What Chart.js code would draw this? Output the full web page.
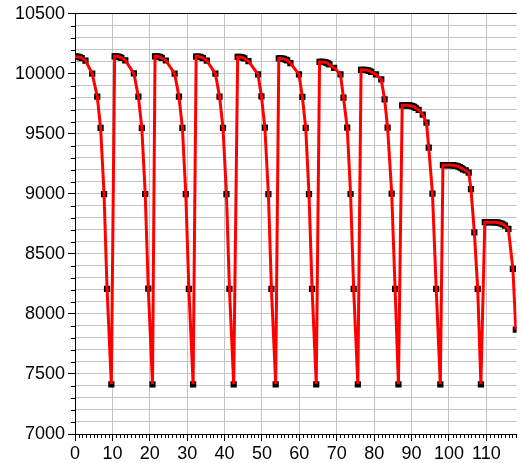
<!DOCTYPE html>
<html>
<head>
<meta charset="utf-8">
<script src="https://cdn.jsdelivr.net/npm/chart.js@4.4.1/dist/chart.umd.min.js"></script>
<style>
  html, body { margin: 0; padding: 0; background: #fff; }
  canvas { display: block; }
</style>
</head>
<body>
<canvas id="chart" width="521" height="463"></canvas>
<script>
// one row per cycle: plateau, shoulder, fall, bottom
const timeValues = [
  0, 0.45, 0.9, 1.35, 1.8, 2.8, 4.6, 5.95, 6.85, 7.77, 8.57, 9.72,
  10.6, 11.05, 11.5, 11.95, 12.4, 13.45, 15.75, 16.95, 17.87, 18.78, 19.6, 20.73,
  21.4, 21.85, 22.3, 22.75, 23.2, 24.3, 26.65, 27.8, 28.72, 29.63, 30.45, 31.59,
  32.4, 32.85, 33.3, 33.75, 34.2, 35.25, 37.55, 38.65, 39.58, 40.5, 41.3, 42.44,
  43.5, 43.95, 44.4, 44.85, 45.3, 46.4, 48.95, 49.86, 50.78, 51.72, 52.53, 53.67,
  54.5, 54.95, 55.4, 55.85, 56.3, 56.75, 57.6, 59.9, 60.8, 61.7, 62.58, 63.4, 64.52,
  65.4, 65.85, 66.3, 66.75, 67.2, 67.65, 68.05, 69.3, 71.0, 71.8, 72.8, 73.7, 74.52, 75.64,
  76.5, 76.95, 77.4, 77.85, 78.3, 78.75, 79.2, 80.5, 81.9, 82.8, 83.6, 84.7, 85.6, 86.5,
  87.5, 87.95, 88.4, 88.85, 89.3, 89.75, 90.2, 90.65, 91.1, 91.9, 93.0, 94.0, 94.6, 95.6, 96.6, 97.7,
  98.4, 98.85, 99.3, 99.75, 100.2, 100.65, 101.1, 101.55, 102.0, 102.45, 102.9, 103.35, 103.8, 104.5, 105.3, 105.9, 106.8, 107.7, 108.55,
  109.6, 110.05, 110.5, 110.95, 111.4, 111.85, 112.3, 112.75, 113.2, 113.65, 114.1, 114.55, 115.0, 115.9, 117.1, 117.9
];
const pressureValues = [
  10143, 10143, 10141, 10137, 10131, 10110, 10002, 9811, 9549, 8998, 8209, 7414,
  10146, 10146, 10144, 10140, 10133, 10112, 10003, 9810, 9550, 8999, 8210, 7414,
  10146, 10146, 10143, 10139, 10132, 10111, 10002, 9811, 9549, 8998, 8209, 7414,
  10144, 10144, 10142, 10138, 10131, 10110, 10001, 9811, 9549, 8998, 8209, 7414,
  10141, 10141, 10139, 10135, 10128, 10105, 9995, 9813, 9551, 8998, 8209, 7414,
  10128, 10128, 10127, 10124, 10119, 10112, 10090, 9995, 9808, 9550, 8998, 8209, 7414,
  10099, 10099, 10099, 10097, 10093, 10087, 10078, 10050, 9995, 9801, 9551, 8999, 8209, 7414,
  10033, 10033, 10033, 10032, 10029, 10024, 10016, 9995, 9953, 9787, 9551, 9003, 8209, 7414,
  9738, 9738, 9738, 9738, 9737, 9735, 9731, 9725, 9716, 9700, 9660, 9593, 9385, 9003, 8209, 7414,
  9240, 9240, 9240, 9240, 9240, 9239, 9238, 9236, 9233, 9229, 9223, 9215, 9205, 9195, 9178, 9040, 8680, 8209, 7414,
  8764, 8764, 8764, 8764, 8764, 8764, 8763, 8762, 8760, 8757, 8752, 8745, 8735, 8708, 8375, 7870
];
const xLabels = [0, 10, 20, 30, 40, 50, 60, 70, 80, 90, 100, 110];
const yLabels = [7000, 7500, 8000, 8500, 9000, 9500, 10000, 10500];

const points = timeValues.map((t, i) => ({ x: t, y: pressureValues[i] }));

const gridGrey = '#c4c4c4';
const fontSpec = { family: "'Liberation Sans', Arial, sans-serif", size: 18 };

// short ticks for the unlabelled steps
const minorTicks = {
  id: 'minorTicks',
  afterDraw(chart) {
    const { ctx, chartArea, scales } = chart;
    ctx.save();
    ctx.strokeStyle = '#000';
    ctx.lineWidth = 1;
    ctx.beginPath();
    scales.x.ticks.forEach(t => {
      if (xLabels.includes(t.value)) return;
      const px = Math.round(scales.x.getPixelForValue(t.value)) + 0.5;
      ctx.moveTo(px, chartArea.bottom);
      ctx.lineTo(px, chartArea.bottom + 4);
    });
    scales.y.ticks.forEach(t => {
      if (yLabels.includes(t.value)) return;
      const py = Math.round(scales.y.getPixelForValue(t.value)) + 0.5;
      ctx.moveTo(chartArea.left, py);
      ctx.lineTo(chartArea.left - 4, py);
    });
    ctx.stroke();
    ctx.restore();
  }
};

new Chart(document.getElementById('chart'), {
  type: 'scatter',
  data: {
    datasets: [
      {
        data: points,
        showLine: true,
        borderColor: '#ff0000',
        borderWidth: 3,
        pointRadius: 0,
        tension: 0,
        order: 1
      },
      {
        data: points,
        showLine: false,
        pointStyle: 'rect',
        pointRadius: 4.4,
        pointBackgroundColor: '#000',
        pointBorderWidth: 0,
        order: 2
      }
    ]
  },
  options: {
    responsive: false,
    animation: false,
    events: [],
    layout: { padding: { top: 12, right: 0, bottom: 0, left: 0 } },
    plugins: {
      legend: { display: false },
      tooltip: { enabled: false }
    },
    scales: {
      x: {
        type: 'linear',
        min: 0,
        max: 118.1,
        afterFit: s => { s.height = 29; },
        border: { color: '#000', width: 1 },
        grid: {
          color: c => (c.tick && xLabels.includes(c.tick.value) ? gridGrey : 'transparent'),
          tickColor: c => (c.tick && xLabels.includes(c.tick.value) ? '#000' : 'transparent'),
          tickLength: 7
        },
        ticks: {
          stepSize: 1,
          includeBounds: false,
          autoSkip: false,
          maxTicksLimit: 1000,
          maxRotation: 0,
          minRotation: 0,
          padding: 2,
          color: '#000',
          font: fontSpec,
          callback: v => (xLabels.includes(v) ? String(v) : '')
        }
      },
      y: {
        min: 7000,
        max: 10500,
        afterFit: s => { s.width = 75; },
        border: { color: '#000', width: 1 },
        grid: {
          color: c => (c.tick && c.tick.value === 10500 ? '#000' : gridGrey),
          tickColor: c => (c.tick && yLabels.includes(c.tick.value) ? '#000' : 'transparent'),
          tickLength: 7
        },
        ticks: {
          stepSize: 100,
          autoSkip: false,
          maxTicksLimit: 1000,
          padding: 3,
          color: '#000',
          font: fontSpec,
          callback: v => (yLabels.includes(v) ? String(v) : '')
        }
      }
    }
  },
  plugins: [minorTicks]
});
</script>
</body>
</html>
